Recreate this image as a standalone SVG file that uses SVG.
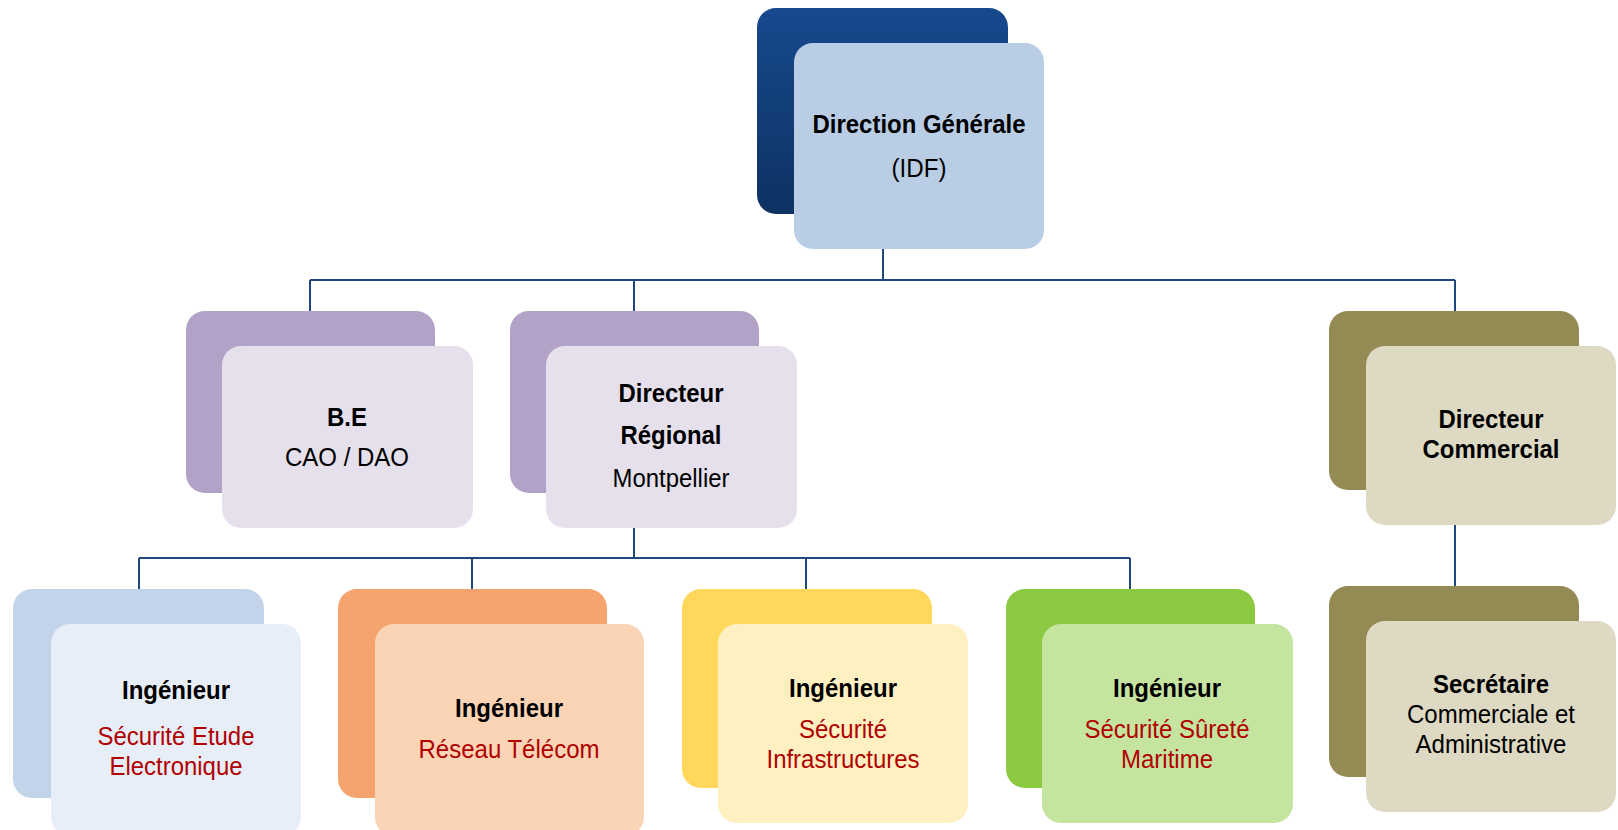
<svg xmlns="http://www.w3.org/2000/svg" width="1618" height="830" viewBox="0 0 1618 830">
<defs>
<linearGradient id="gTop" x1="0" y1="0" x2="0" y2="1">
<stop offset="0" stop-color="#17498E"/>
<stop offset="1" stop-color="#0D3262"/>
</linearGradient>
</defs>
<style>
text{font-family:"Liberation Sans",Arial,sans-serif;font-size:26.4px;text-anchor:middle;fill:#000}
.b{font-weight:bold}
.r{fill:#B00000}
.conn{stroke:#1F497D;stroke-width:2;fill:none}
</style>
<rect width="1618" height="830" fill="#FFFFFF"/>
<g id="connectors">
<path class="conn" d="M883 249V280M310 280H1455M310 280V311M634 280V311M1455 280V311"/>
<path class="conn" d="M634 528V558M139 558H1130M139 558V589M472 558V589M806 558V589M1130 558V589"/>
<path class="conn" d="M1455 525V586"/>
</g>
<g id="n-direction">
<rect x="757" y="8" width="251" height="206" rx="19" fill="url(#gTop)"/>
<rect x="794" y="43" width="250" height="206" rx="19" fill="#B9CDE5"/>
<text class="b" x="919" y="133" textLength="213" lengthAdjust="spacingAndGlyphs">Direction Générale</text>
<text x="919" y="177" textLength="55" lengthAdjust="spacingAndGlyphs">(IDF)</text>
</g>
<g id="n-be">
<rect x="186" y="311" width="249" height="182" rx="19" fill="#B2A2C7"/>
<rect x="222" y="346" width="251" height="182" rx="19" fill="#E5E0EC"/>
<text class="b" x="347" y="426" textLength="40" lengthAdjust="spacingAndGlyphs">B.E</text>
<text x="347" y="466" textLength="124" lengthAdjust="spacingAndGlyphs">CAO / DAO</text>
</g>
<g id="n-dr">
<rect x="510" y="311" width="249" height="182" rx="19" fill="#B2A2C7"/>
<rect x="546" y="346" width="251" height="182" rx="19" fill="#E5E0EC"/>
<text class="b" x="671" y="402" textLength="105" lengthAdjust="spacingAndGlyphs">Directeur</text>
<text class="b" x="671" y="444" textLength="101" lengthAdjust="spacingAndGlyphs">Régional</text>
<text x="671" y="487" textLength="117" lengthAdjust="spacingAndGlyphs">Montpellier</text>
</g>
<g id="n-dc">
<rect x="1329" y="311" width="250" height="179" rx="19" fill="#948A54"/>
<rect x="1366" y="346" width="250" height="179" rx="19" fill="#DDD9C3"/>
<text class="b" x="1491" y="428" textLength="105" lengthAdjust="spacingAndGlyphs">Directeur</text>
<text class="b" x="1491" y="458" textLength="137" lengthAdjust="spacingAndGlyphs">Commercial</text>
</g>
<g id="n-sec">
<rect x="1329" y="586" width="250" height="191" rx="19" fill="#948A54"/>
<rect x="1366" y="621" width="250" height="191" rx="19" fill="#DDD9C3"/>
<text class="b" x="1491" y="693" textLength="116" lengthAdjust="spacingAndGlyphs">Secrétaire</text>
<text x="1491" y="723" textLength="168" lengthAdjust="spacingAndGlyphs">Commerciale et</text>
<text x="1491" y="753" textLength="151" lengthAdjust="spacingAndGlyphs">Administrative</text>
</g>
<g id="n-ing1">
<rect x="13" y="589" width="251" height="209" rx="19" fill="#C3D4EA"/>
<rect x="51" y="624" width="250" height="212" rx="19" fill="#E8EEF7"/>
<text class="b" x="176" y="699" textLength="108" lengthAdjust="spacingAndGlyphs">Ingénieur</text>
<text class="r" x="176" y="745" textLength="157" lengthAdjust="spacingAndGlyphs">Sécurité Etude</text>
<text class="r" x="176" y="775" textLength="133" lengthAdjust="spacingAndGlyphs">Electronique</text>
</g>
<g id="n-ing2">
<rect x="338" y="589" width="269" height="209" rx="19" fill="#F6A46E"/>
<rect x="375" y="624" width="269" height="212" rx="19" fill="#FBD4B6"/>
<text class="b" x="509" y="717" textLength="108" lengthAdjust="spacingAndGlyphs">Ingénieur</text>
<text class="r" x="509" y="758" textLength="181" lengthAdjust="spacingAndGlyphs">Réseau Télécom</text>
</g>
<g id="n-ing3">
<rect x="682" y="589" width="250" height="199" rx="19" fill="#FFD75B"/>
<rect x="718" y="624" width="250" height="199" rx="19" fill="#FFF0C2"/>
<text class="b" x="843" y="697" textLength="108" lengthAdjust="spacingAndGlyphs">Ingénieur</text>
<text class="r" x="843" y="738" textLength="88" lengthAdjust="spacingAndGlyphs">Sécurité</text>
<text class="r" x="843" y="768" textLength="153" lengthAdjust="spacingAndGlyphs">Infrastructures</text>
</g>
<g id="n-ing4">
<rect x="1006" y="589" width="249" height="199" rx="19" fill="#8BC941"/>
<rect x="1042" y="624" width="251" height="199" rx="19" fill="#C5E4A0"/>
<text class="b" x="1167" y="697" textLength="108" lengthAdjust="spacingAndGlyphs">Ingénieur</text>
<text class="r" x="1167" y="738" textLength="165" lengthAdjust="spacingAndGlyphs">Sécurité Sûreté</text>
<text class="r" x="1167" y="768" textLength="92" lengthAdjust="spacingAndGlyphs">Maritime</text>
</g>
</svg>
